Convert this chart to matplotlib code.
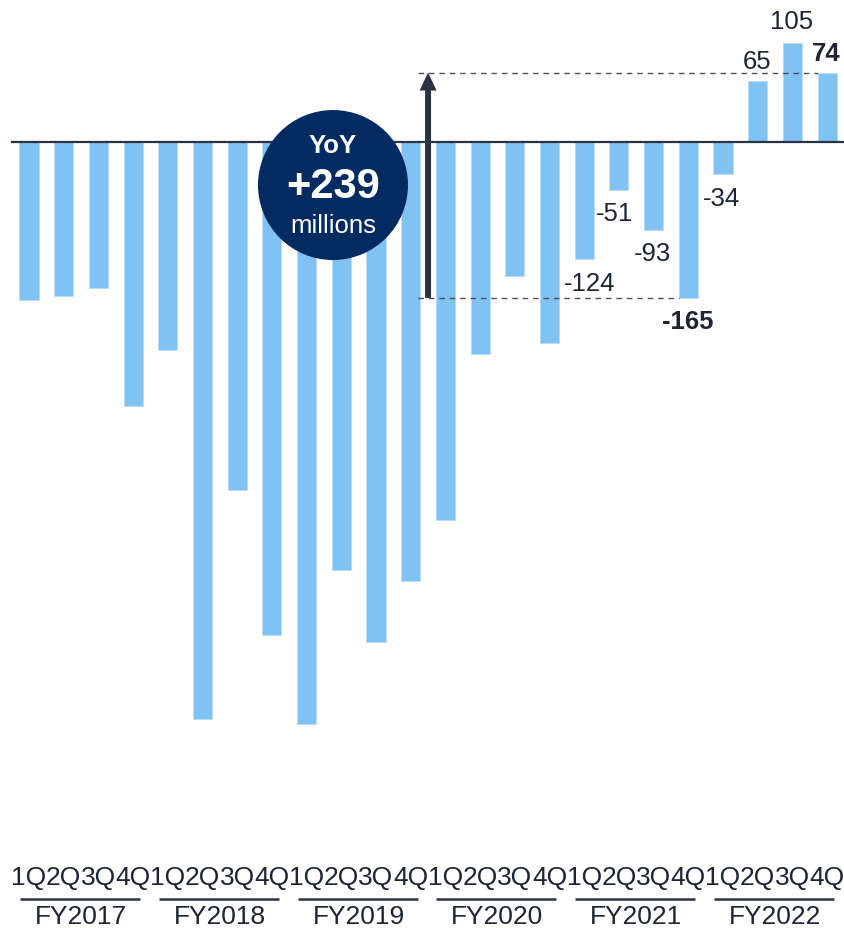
import matplotlib

matplotlib.use("Agg")
import matplotlib.pyplot as plt
from matplotlib.patches import Ellipse


plt.rcParams["font.family"] = ["Liberation Sans", "DejaVu Sans"]

FISCAL_YEARS = ["FY2017", "FY2018", "FY2019", "FY2020", "FY2021", "FY2022"]
QUARTERS = ["1Q", "2Q", "3Q", "4Q"]
VALUES = [
    -167, -163, -155, -280,
    -220, -612, -369, -522,
    -617, -454, -530, -465,
    -400, -225, -142, -213,
    -124, -51, -93, -165,
    -34, 65, 105, 74,
]
# only the last eight quarters carry a value label
LABELLED = {16: "-124", 17: "-51", 18: "-93", 19: "-165", 20: "-34", 21: "65", 22: "105", 23: "74"}
BOLD_LABELS = {19, 23}
YOY_CHANGE = VALUES[23] - VALUES[19]

BAR_COLOR = "#80c2f2"
TEXT_COLOR = "#1e2433"
LINE_COLOR = "#2b3242"
CIRCLE_COLOR = "#012b61"

# label offsets (dx in bar units, dy in value units) relative to the bar end
LABEL_OFFSETS = {
    16: (0.17, -25), 17: (-0.13, -24), 18: (-0.03, -24.5), 19: (-0.02, -24),
    20: (-0.04, -25), 21: (-0.01, 21), 22: (-0.01, 24), 23: (-0.02, 21),
}


def main():
    fig = plt.figure(figsize=(8.45, 9.29), dpi=100)
    ax = fig.add_axes([0, 0, 1, 1])
    ax.set_xlim(-0.836, 23.516)
    ax.set_ylim(-833.2, 152.0)
    ax.axis("off")

    x = list(range(len(VALUES)))
    ax.bar(x, VALUES, width=0.55, color=BAR_COLOR, edgecolor="#b9dcf7",
           linewidth=0.6, zorder=2)

    ax.plot([-0.49, 23.46], [0, 0], color=LINE_COLOR, linewidth=1.6, zorder=3)

    # value labels
    for idx, text in LABELLED.items():
        dx, dy = LABEL_OFFSETS[idx]
        weight = "bold" if idx in BOLD_LABELS else "normal"
        ax.text(idx + dx, VALUES[idx] + dy, text, ha="center", va="center",
                fontsize=18.5, color=TEXT_COLOR, fontweight=weight, zorder=5)

    # year-on-year bracket between 4Q FY2021 and 4Q FY2022
    arrow_x = 11.5
    low, high = VALUES[19], VALUES[23]
    ax.plot([11.2, 19 - 0.275], [low, low], color="#4a5060", linewidth=1.0,
            linestyle=(0, (4, 3.5)), zorder=3)
    ax.plot([11.2, 23 - 0.275], [high, high], color="#4a5060", linewidth=1.0,
            linestyle=(0, (4, 3.5)), zorder=3)
    ax.arrow(arrow_x, low, 0, high - low, width=6 / 34.7, head_width=17 / 34.7,
             head_length=18 / 0.943, length_includes_head=True,
             color=LINE_COLOR, linewidth=0, zorder=4)

    # badge
    badge = Ellipse((8.76, -45.3), width=150 / 34.7, height=150 / 0.943,
                    facecolor=CIRCLE_COLOR, edgecolor="none", zorder=6)
    ax.add_patch(badge)
    ax.text(8.76, -2.5, "YoY", ha="center", va="center", fontsize=18.5,
            fontweight="bold", color="white", zorder=7)
    ax.text(8.76, -46, f"+{YOY_CHANGE}", ha="center", va="center", fontsize=30,
            fontweight="bold", color="white", zorder=7)
    ax.text(8.76, -88, "millions", ha="center", va="center", fontsize=18.5,
            color="white", zorder=7)

    # category axis: quarters, underline, fiscal year
    for g, year in enumerate(FISCAL_YEARS):
        for q, quarter in enumerate(QUARTERS):
            ax.text(4 * g + q, -778.6, quarter, ha="center", va="center",
                    fontsize=19, color=TEXT_COLOR)
        ax.plot([4 * g - 0.26, 4 * g + 3.2], [-802, -802], color=LINE_COLOR,
                linewidth=1.8, solid_capstyle="butt")
        ax.text(4 * g + 1.5, -820, year, ha="center", va="center",
                fontsize=19, color=TEXT_COLOR)

    fig.savefig("out.png", dpi=100)
    plt.close(fig)


if __name__ == "__main__":
    main()
